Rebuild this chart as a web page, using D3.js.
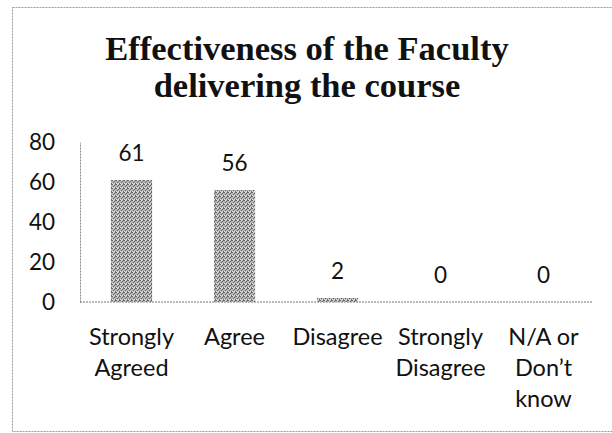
<!DOCTYPE html>
<html><head><meta charset="utf-8">
<script src="https://cdn.jsdelivr.net/npm/d3@7"></script>
<style>html,body{margin:0;padding:0;background:#fff;}</style>
</head><body>
<svg id="c" width="612" height="433"></svg>
<script>
const categories = [["Strongly","Agreed"],["Agree"],["Disagree"],["Strongly","Disagree"],["N/A or","Don\u2019t","know"]];
const values = [61, 56, 2, 0, 0];
const yTicks = [0, 20, 40, 60, 80];
const titleLines = ["Effectiveness of the Faculty", "delivering the course"];

const svg = d3.select("#c");
const defs = svg.append("defs");
const pat = defs.append("pattern").attr("id","tex").attr("patternUnits","userSpaceOnUse")
  .attr("width",4).attr("height",4);
pat.append("rect").attr("width",4).attr("height",4).attr("fill","#b4b4b4");
[[0,0],[2,1],[1,2],[3,3],[3,0]].forEach(([x,y])=>pat.append("rect").attr("x",x).attr("y",y).attr("width",1).attr("height",1).attr("fill","#6a6a6a"));
[[1,0],[0,3],[2,3]].forEach(([x,y])=>pat.append("rect").attr("x",x).attr("y",y).attr("width",1).attr("height",1).attr("fill","#e0e0e0"));

// frame
svg.append("rect").attr("x",12.5).attr("y",7.5).attr("width",640).attr("height",424)
  .attr("fill","none").attr("stroke","#999").attr("stroke-width",1).attr("stroke-dasharray","2,1");

const x = d3.scaleBand().domain(d3.range(values.length)).range([80, 595]).paddingInner(0.6).paddingOuter(0.3);
const y = d3.scaleLinear().domain([0, 80]).range([302, 142]);

// title
const t = svg.append("text").attr("text-anchor","middle")
  .attr("font-family","'Liberation Serif','Times New Roman',serif").attr("font-weight","bold")
  .attr("font-size",34.5).attr("fill","#111");
titleLines.forEach((l,i)=>t.append("tspan").attr("x",307).attr("y",60 + i*37).text(l));

const font = "Lato, 'Open Sans', sans-serif";

// y axis
const yAxis = d3.axisLeft(y).tickValues(yTicks).tickSize(0).tickPadding(25);
const ga = svg.append("g").attr("transform","translate(80,0)").call(yAxis);
ga.select(".domain").attr("stroke","#888").attr("stroke-dasharray","2,1");
ga.selectAll("text").attr("font-family",font).attr("font-size",22.5).attr("fill","#111");

// x axis line
svg.append("line").attr("x1",80).attr("x2",593).attr("y1",y(0)).attr("y2",y(0))
  .attr("stroke","#777").attr("stroke-dasharray","2,1");

// bars
svg.selectAll("rect.bar").data(values).join("rect").attr("class","bar")
  .attr("x",(d,i)=>x(i)).attr("width",x.bandwidth())
  .attr("y",d=>y(d)).attr("height",d=>y(0)-y(d))
  .attr("fill","url(#tex)");

// value labels
svg.selectAll("text.val").data(values).join("text").attr("class","val")
  .attr("x",(d,i)=>x(i)+x.bandwidth()/2).attr("y",d=>y(d)-19)
  .attr("text-anchor","middle").attr("font-family",font).attr("font-size",22.5).attr("fill","#111")
  .text(d=>d);

// category labels
categories.forEach((lines,i)=>{
  const tx = svg.append("text").attr("text-anchor","middle").attr("font-family",font)
    .attr("font-size",23.5).attr("fill","#111");
  lines.forEach((l,j)=>tx.append("tspan").attr("x",x(i)+x.bandwidth()/2).attr("y",345 + j*31).text(l));
});
</script>
</body></html>
